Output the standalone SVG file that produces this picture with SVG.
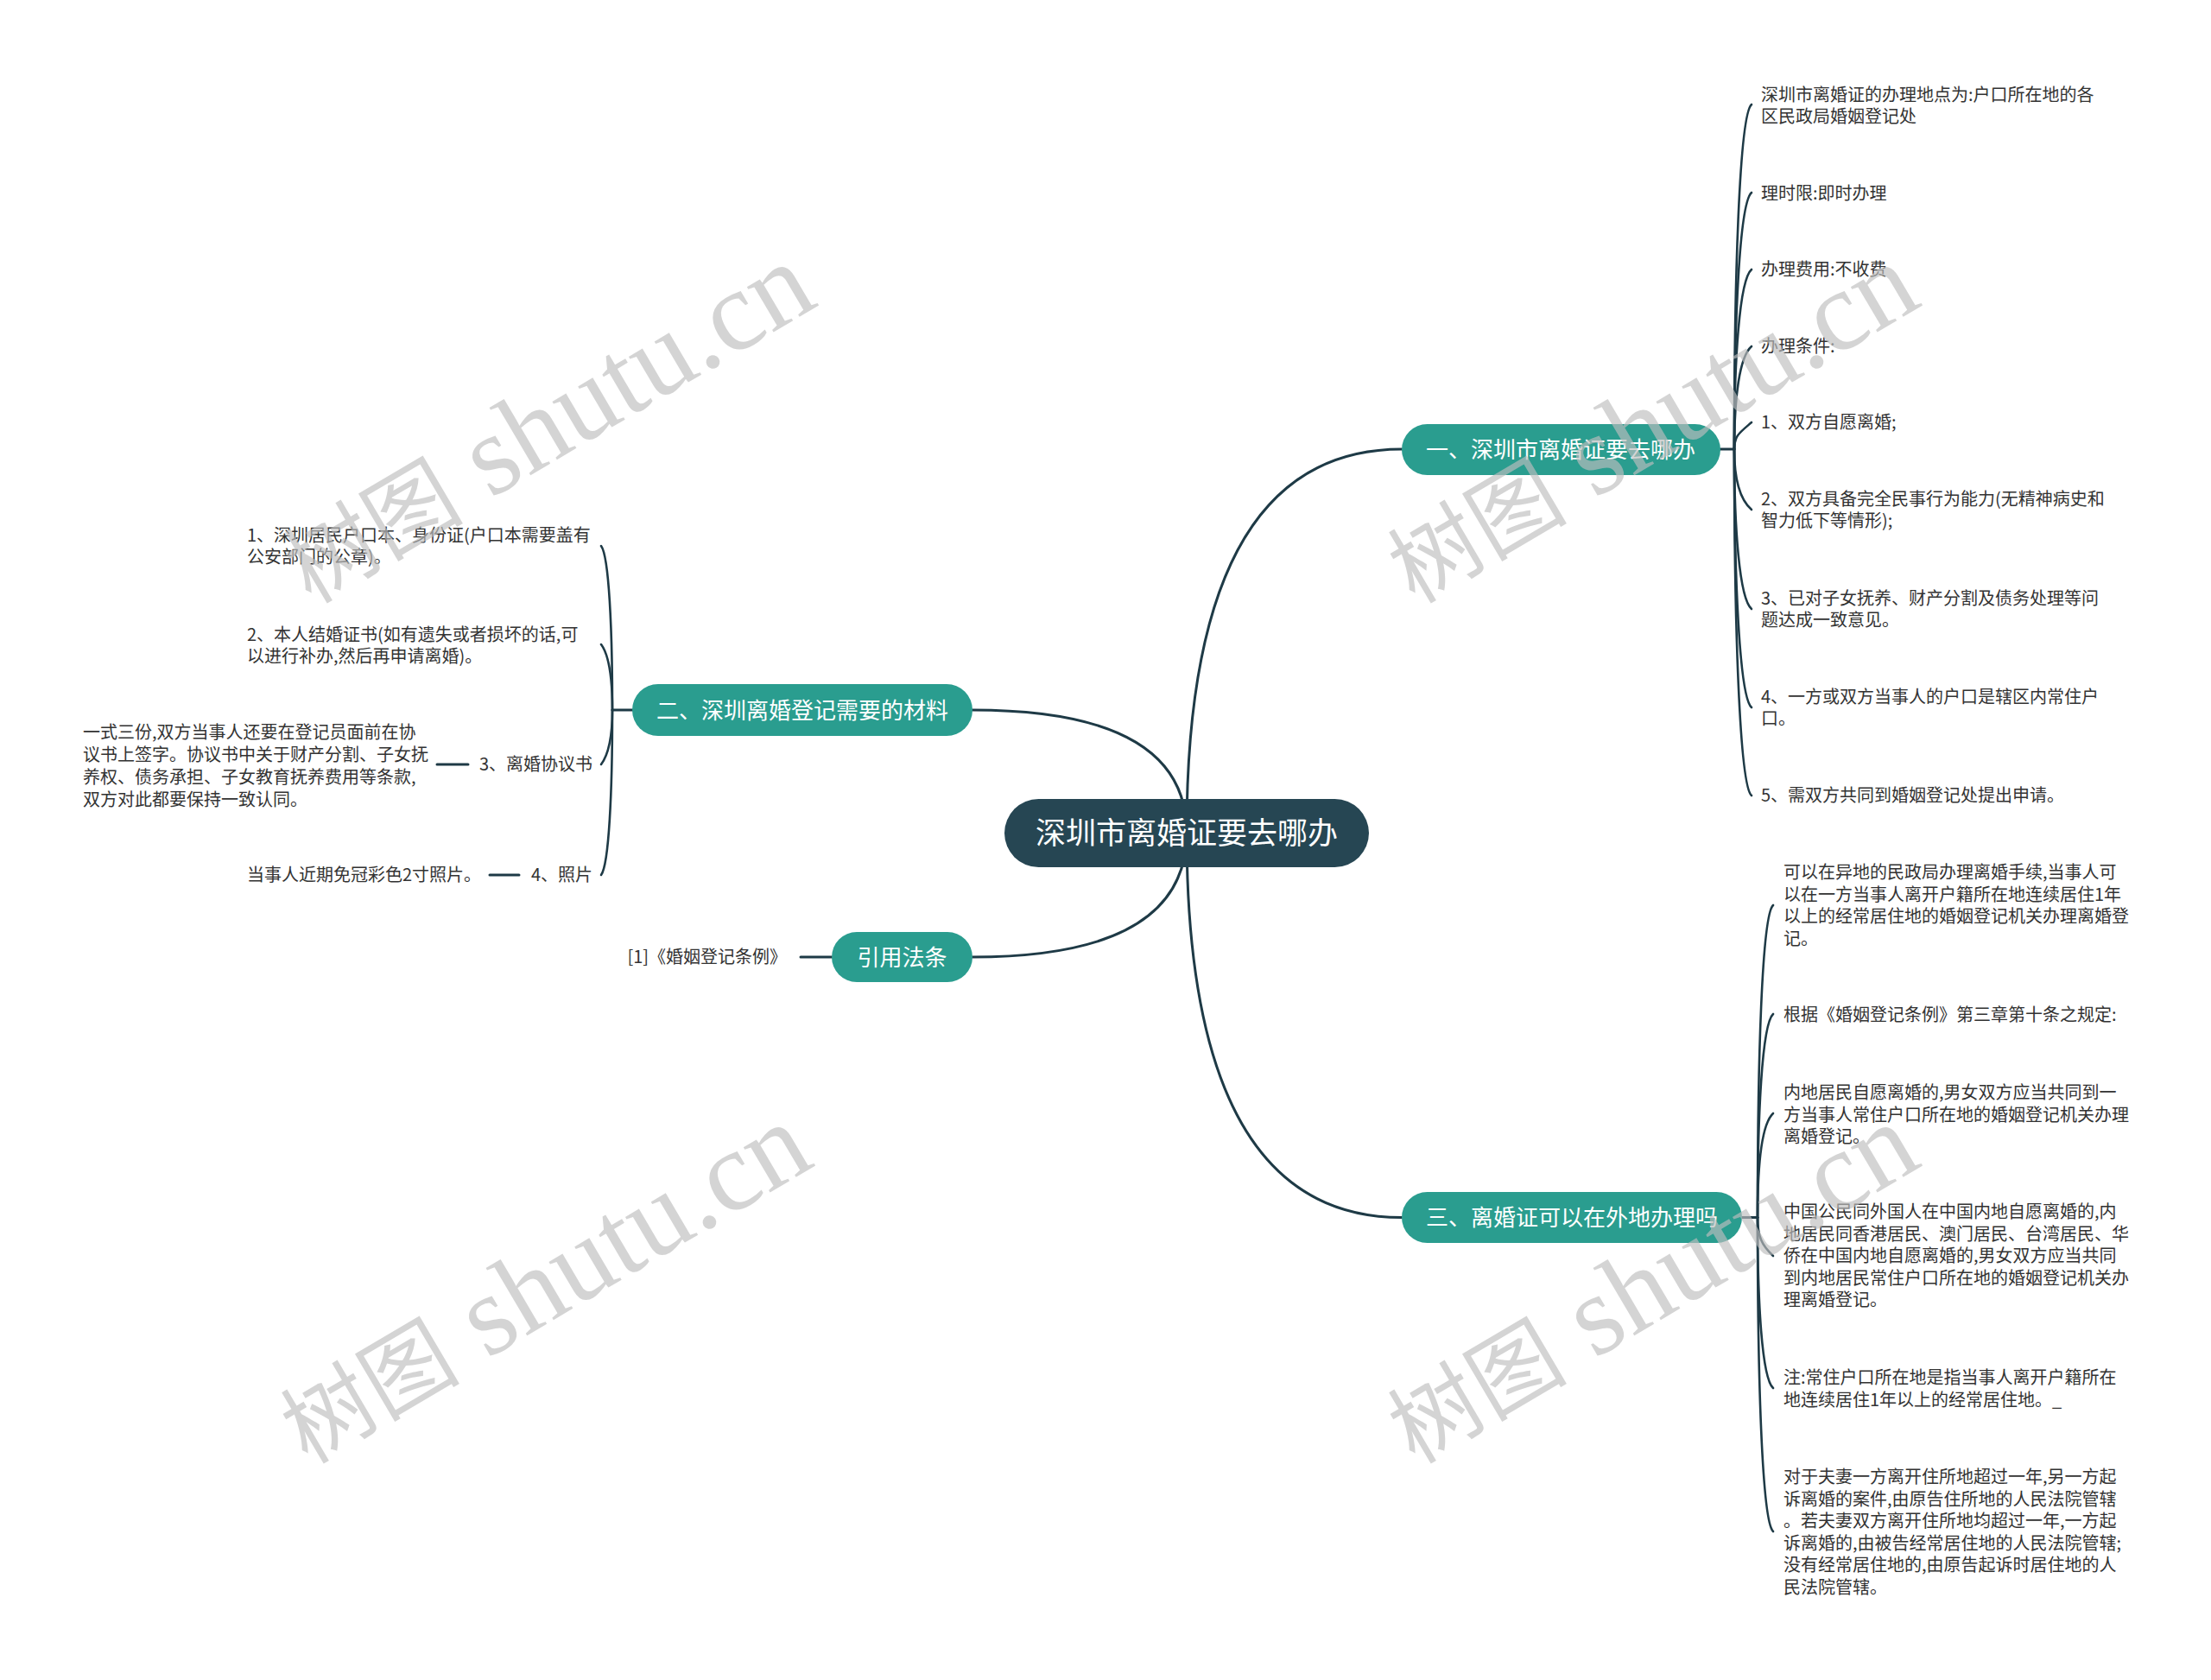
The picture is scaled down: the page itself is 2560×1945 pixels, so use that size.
<svg xmlns="http://www.w3.org/2000/svg" width="2560" height="1945" viewBox="0 0 2560 1945">
<style>
.bg{fill:#ffffff}
.conn{fill:none;stroke:#1e3a46;stroke-width:3;stroke-linecap:round}
.sub{fill:none;stroke:#1e3a46;stroke-width:2.6;stroke-linecap:round}
.root{fill:#264653}
.main{fill:#2a9d8f}
.rt{font-family:"Noto Sans CJK SC","Noto Sans",sans-serif;font-size:35px;fill:#ffffff;text-anchor:middle}
.mt{font-family:"Noto Sans CJK SC","Noto Sans",sans-serif;font-size:26px;fill:#ffffff;text-anchor:middle}
.it{font-family:"Noto Sans CJK SC","Noto Sans",sans-serif;font-size:20px;fill:#333333}
.end{text-anchor:end}
.wm{font-family:"Liberation Serif","Noto Sans CJK SC",serif;font-size:104px;fill:#bdbdbd;fill-opacity:0.66}
.wm2{font-size:132px}
</style>
<rect class="bg" x="0" y="0" width="2560" height="1945"/>

<g id="connectors">
  <path class="conn" d="M1374,964 Q1374,520 1623,520"/>
  <path class="conn" d="M1374,964 Q1374,822 1126,822"/>
  <path class="conn" d="M1374,964 Q1374,1108 1126,1108"/>
  <path class="conn" d="M1374,964 Q1374,1409.5 1623,1409.5"/>
  <path class="conn" d="M1992,520 H2008"/>
  <path class="conn" d="M2017,1409.5 H2035"/>
  <path class="conn" d="M732,822 H709"/>
  <path class="conn" d="M963,1108 H927"/>
  <path class="conn" d="M542,885 H506"/>
  <path class="conn" d="M601,1013 H567"/>
  <!-- branch 1 children -->
  <path class="sub" d="M2008,520 C2008,320.5 2014,133 2028,121"/>
  <path class="sub" d="M2008,520 C2008,371.5 2014,235 2028,223"/>
  <path class="sub" d="M2008,520 C2008,416 2014,324 2028,312"/>
  <path class="sub" d="M2008,520 C2008,460.5 2014,413 2028,401"/>
  <path class="sub" d="M2008,520 C2008,504.5 2014,501 2028,489"/>
  <path class="sub" d="M2008,520 C2008,555 2014,578 2028,590"/>
  <path class="sub" d="M2008,520 C2008,612.5 2014,693 2028,705"/>
  <path class="sub" d="M2008,520 C2008,669.5 2014,807 2028,819"/>
  <path class="sub" d="M2008,520 C2008,720.5 2014,909 2028,921"/>
  <!-- branch 3 children -->
  <path class="sub" d="M2035,1409.5 C2035,1228.75 2040,1060 2053,1048"/>
  <path class="sub" d="M2035,1409.5 C2035,1291.75 2040,1186 2053,1174"/>
  <path class="sub" d="M2035,1409.5 C2035,1349.25 2040,1301 2053,1289"/>
  <path class="sub" d="M2035,1409.5 C2035,1431.75 2040,1442 2053,1454"/>
  <path class="sub" d="M2035,1409.5 C2035,1508.25 2040,1595 2053,1607"/>
  <path class="sub" d="M2035,1409.5 C2035,1591.25 2040,1761 2053,1773"/>
  <!-- branch 2 children -->
  <path class="sub" d="M709,822 C709,727 705,644 696,632"/>
  <path class="sub" d="M709,822 C709,784 705,758 696,746"/>
  <path class="sub" d="M709,822 C709,853.5 705,873 696,885"/>
  <path class="sub" d="M709,822 C709,917.5 705,1001 696,1013"/>
</g>

<g id="root">
  <rect class="root" x="1163" y="925" width="422" height="79" rx="39.5"/>
  <text class="rt" x="1374" y="977">深圳市离婚证要去哪办</text>
</g>

<g id="branch1">
  <rect class="main" x="1623" y="491" width="369" height="59" rx="29.5"/>
  <text class="mt" x="1807" y="529.5">一、深圳市离婚证要去哪办</text>
</g>
<g id="branch2">
  <rect class="main" x="732" y="792" width="394" height="60" rx="30"/>
  <text class="mt" x="929" y="831.5">二、深圳离婚登记需要的材料</text>
</g>
<g id="branch3">
  <rect class="main" x="1623" y="1380" width="394" height="59" rx="29.5"/>
  <text class="mt" x="1820" y="1419">三、离婚证可以在外地办理吗</text>
</g>
<g id="branch4">
  <rect class="main" x="963" y="1079" width="163" height="58" rx="29"/>
  <text class="mt" x="1044.5" y="1117.5">引用法条</text>
</g>

<g id="b1-items">
  <text class="it" x="2039" y="117"><tspan x="2039" y="117">深圳市离婚证的办理地点为:户口所在地的各</tspan><tspan x="2039" y="142">区民政局婚姻登记处</tspan></text>
  <text class="it" x="2039" y="231">理时限:即时办理</text>
  <text class="it" x="2039" y="319">办理费用:不收费</text>
  <text class="it" x="2039" y="408">办理条件:</text>
  <text class="it" x="2039" y="496">1、双方自愿离婚;</text>
  <text class="it" x="2039" y="585"><tspan x="2039" y="585">2、双方具备完全民事行为能力(无精神病史和</tspan><tspan x="2039" y="610">智力低下等情形);</tspan></text>
  <text class="it" x="2039" y="700"><tspan x="2039" y="700">3、已对子女抚养、财产分割及债务处理等问</tspan><tspan x="2039" y="725">题达成一致意见。</tspan></text>
  <text class="it" x="2039" y="814"><tspan x="2039" y="814">4、一方或双方当事人的户口是辖区内常住户</tspan><tspan x="2039" y="839">口。</tspan></text>
  <text class="it" x="2039" y="928">5、需双方共同到婚姻登记处提出申请。</text>
</g>

<g id="b3-items">
  <text class="it" x="2065" y="1017"><tspan x="2065" y="1017">可以在异地的民政局办理离婚手续,当事人可</tspan><tspan x="2065" y="1042.6">以在一方当事人离开户籍所在地连续居住1年</tspan><tspan x="2065" y="1068.2">以上的经常居住地的婚姻登记机关办理离婚登</tspan><tspan x="2065" y="1093.8">记。</tspan></text>
  <text class="it" x="2065" y="1182">根据《婚姻登记条例》第三章第十条之规定:</text>
  <text class="it" x="2065" y="1272"><tspan x="2065" y="1272">内地居民自愿离婚的,男女双方应当共同到一</tspan><tspan x="2065" y="1297.6">方当事人常住户口所在地的婚姻登记机关办理</tspan><tspan x="2065" y="1323.2">离婚登记。</tspan></text>
  <text class="it" x="2065" y="1410"><tspan x="2065" y="1410">中国公民同外国人在中国内地自愿离婚的,内</tspan><tspan x="2065" y="1435.6">地居民同香港居民、澳门居民、台湾居民、华</tspan><tspan x="2065" y="1461.2">侨在中国内地自愿离婚的,男女双方应当共同</tspan><tspan x="2065" y="1486.8">到内地居民常住户口所在地的婚姻登记机关办</tspan><tspan x="2065" y="1512.4">理离婚登记。</tspan></text>
  <text class="it" x="2065" y="1602"><tspan x="2065" y="1602">注:常住户口所在地是指当事人离开户籍所在</tspan><tspan x="2065" y="1627.6">地连续居住1年以上的经常居住地。_</tspan></text>
  <text class="it" x="2065" y="1717"><tspan x="2065" y="1717">对于夫妻一方离开住所地超过一年,另一方起</tspan><tspan x="2065" y="1742.6">诉离婚的案件,由原告住所地的人民法院管辖</tspan><tspan x="2065" y="1768.2">。若夫妻双方离开住所地均超过一年,一方起</tspan><tspan x="2065" y="1793.8">诉离婚的,由被告经常居住地的人民法院管辖;</tspan><tspan x="2065" y="1819.4">没有经常居住地的,由原告起诉时居住地的人</tspan><tspan x="2065" y="1845">民法院管辖。</tspan></text>
</g>

<g id="b2-items">
  <text class="it" x="286" y="627"><tspan x="286" y="627">1、深圳居民户口本、身份证(户口本需要盖有</tspan><tspan x="286" y="652">公安部门的公章)。</tspan></text>
  <text class="it" x="286" y="742"><tspan x="286" y="742">2、本人结婚证书(如有遗失或者损坏的话,可</tspan><tspan x="286" y="767">以进行补办,然后再申请离婚)。</tspan></text>
  <text class="it end" x="686" y="892">3、离婚协议书</text>
  <text class="it" x="96" y="855"><tspan x="96" y="855">一式三份,双方当事人还要在登记员面前在协</tspan><tspan x="96" y="881">议书上签字。协议书中关于财产分割、子女抚</tspan><tspan x="96" y="907">养权、债务承担、子女教育抚养费用等条款,</tspan><tspan x="96" y="933">双方对此都要保持一致认同。</tspan></text>
  <text class="it end" x="686" y="1020">4、照片</text>
  <text class="it" x="286" y="1020">当事人近期免冠彩色2寸照片。</text>
</g>

<g id="b4-items">
  <text class="it end" x="911" y="1115">[1]《婚姻登记条例》</text>
</g>

<g id="watermarks">
  <text class="wm" transform="translate(360,700) rotate(-30.5)">树图<tspan class="wm2"> shutu.cn</tspan></text>
  <text class="wm" transform="translate(1638,700) rotate(-30.5)">树图<tspan class="wm2"> shutu.cn</tspan></text>
  <text class="wm" transform="translate(356,1696) rotate(-30.5)">树图<tspan class="wm2"> shutu.cn</tspan></text>
  <text class="wm" transform="translate(1638,1696) rotate(-30.5)">树图<tspan class="wm2"> shutu.cn</tspan></text>
</g>
</svg>
